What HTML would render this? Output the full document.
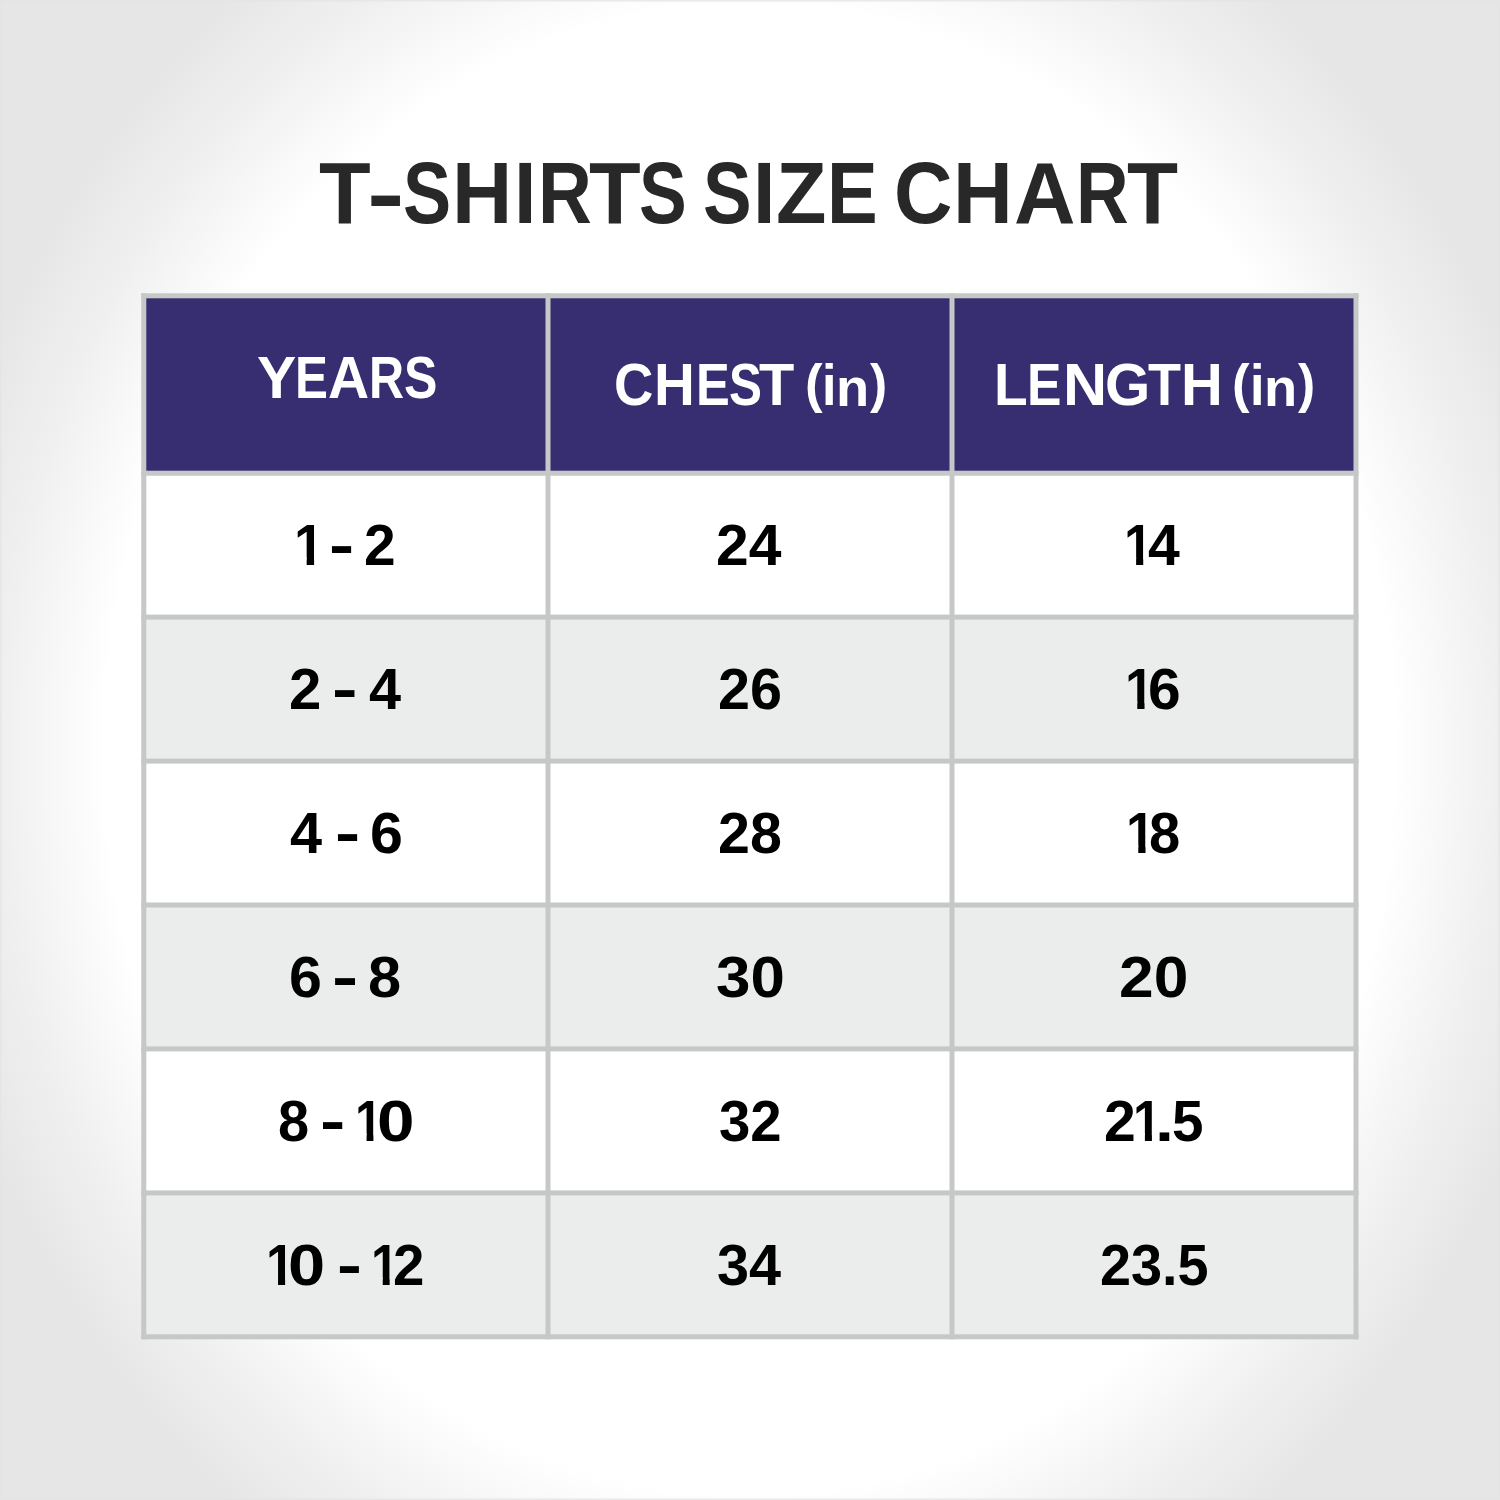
<!DOCTYPE html>
<html lang="en">
<head>
<meta charset="utf-8">
<title>T-Shirts Size Chart</title>
<style>
html,body{margin:0;padding:0;}
body{width:1500px;height:1500px;overflow:hidden;position:relative;
  font-family:"Liberation Sans",sans-serif;font-weight:bold;
  background:#e6e6e6;}
#bg{position:absolute;left:0;top:0;width:1500px;height:1500px;
  background:radial-gradient(ellipse 834px 965px at 750px 750px,#ffffff 0,#ffffff 77.2%,#f0f0f0 89.5%,#e6e6e6 100%);}
#edge{position:absolute;left:0;top:0;width:1500px;height:1500px;
  background:
   linear-gradient(to bottom,rgba(228,228,228,1) 0,rgba(228,228,228,.6) 1px,rgba(228,228,228,.15) 2px,rgba(228,228,228,0) 3px) top/100% 3px no-repeat,
   linear-gradient(to top,rgba(228,228,228,1) 0,rgba(228,228,228,.6) 1px,rgba(228,228,228,.15) 2px,rgba(228,228,228,0) 3px) bottom/100% 3px no-repeat,
   linear-gradient(to right,rgba(228,228,228,1) 0,rgba(228,228,228,.6) 1px,rgba(228,228,228,.15) 2px,rgba(228,228,228,0) 3px) left/3px 100% no-repeat,
   linear-gradient(to left,rgba(228,228,228,1) 0,rgba(228,228,228,.6) 1px,rgba(228,228,228,.15) 2px,rgba(228,228,228,0) 3px) right/3px 100% no-repeat;}
.c{position:absolute;}
.grid{position:absolute;left:0;top:0;}
.one{clip-path:polygon(0 0,0.371em 0,0.371em 1em,0.2334em 1em,0.2334em 0.7em,0 0.7em);}
.t{position:absolute;white-space:nowrap;line-height:1;transform-origin:0 0;margin:0;padding:0;font-weight:bold;}

</style>
</head>
<body>
<div id="bg"></div>
<div id="edge"></div>
<div class="c" style="left:143.8px;top:295.8px;width:1212.2px;height:177.4px;background:#362e70"></div>
<div class="c" style="left:143.8px;top:473.2px;width:1212.2px;height:143.9px;background:#ffffff"></div>
<div class="c" style="left:143.8px;top:617.1px;width:1212.2px;height:144px;background:#ebedec"></div>
<div class="c" style="left:143.8px;top:761.1px;width:1212.2px;height:143.9px;background:#ffffff"></div>
<div class="c" style="left:143.8px;top:905px;width:1212.2px;height:143.9px;background:#ebedec"></div>
<div class="c" style="left:143.8px;top:1048.9px;width:1212.2px;height:144px;background:#ffffff"></div>
<div class="c" style="left:143.8px;top:1192.9px;width:1212.2px;height:143.9px;background:#ebedec"></div>
<svg class="grid" width="1500" height="1500" viewBox="0 0 1500 1500" shape-rendering="geometricPrecision"><rect x="141.3" y="293.3" width="1217.2" height="5" fill="#c6c7c7"/><rect x="141.3" y="470.7" width="1217.2" height="5" fill="#c6c7c7"/><rect x="141.3" y="614.6" width="1217.2" height="5" fill="#c6c7c7"/><rect x="141.3" y="758.6" width="1217.2" height="5" fill="#c6c7c7"/><rect x="141.3" y="902.5" width="1217.2" height="5" fill="#c6c7c7"/><rect x="141.3" y="1046.4" width="1217.2" height="5" fill="#c6c7c7"/><rect x="141.3" y="1190.4" width="1217.2" height="5" fill="#c6c7c7"/><rect x="141.3" y="1334.3" width="1217.2" height="5" fill="#c6c7c7"/><rect x="141.3" y="293.3" width="5" height="1046" fill="#c6c7c7"/><rect x="545.5" y="293.3" width="5" height="1046" fill="#c6c7c7"/><rect x="949.5" y="293.3" width="5" height="1046" fill="#c6c7c7"/><rect x="1353.5" y="293.3" width="5" height="1046" fill="#c6c7c7"/></svg>
<div class="t" style="left:319.05px;top:149.26px;font-size:88px;color:#282828;transform:scaleX(0.9612)">T</div>
<div class="t" style="left:367.17px;top:149.26px;font-size:88px;color:#282828;transform:scaleX(1.2783)">-</div>
<div class="t" style="left:403.31px;top:149.26px;font-size:88px;color:#282828;transform:scaleX(0.8201)">S</div>
<div class="t" style="left:452.02px;top:149.26px;font-size:88px;color:#282828;transform:scaleX(0.9480)">H</div>
<div class="t" style="left:513.60px;top:149.26px;font-size:88px;color:#282828;transform:scaleX(0.9156)">I</div>
<div class="t" style="left:538.01px;top:149.26px;font-size:88px;color:#282828;transform:scaleX(0.8464)">R</div>
<div class="t" style="left:588.65px;top:149.26px;font-size:88px;color:#282828;transform:scaleX(0.9612)">T</div>
<div class="t" style="left:638.73px;top:149.26px;font-size:88px;color:#282828;transform:scaleX(0.8125)">S</div>
<div class="t" style="left:703.29px;top:149.26px;font-size:88px;color:#282828;transform:scaleX(0.8277)">S</div>
<div class="t" style="left:752.60px;top:149.26px;font-size:88px;color:#282828;transform:scaleX(0.9156)">I</div>
<div class="t" style="left:775.53px;top:149.26px;font-size:88px;color:#282828;transform:scaleX(0.9384)">Z</div>
<div class="t" style="left:827.32px;top:149.26px;font-size:88px;color:#282828;transform:scaleX(0.8628)">E</div>
<div class="t" style="left:894.26px;top:149.26px;font-size:88px;color:#282828;transform:scaleX(0.9204)">C</div>
<div class="t" style="left:953.46px;top:149.26px;font-size:88px;color:#282828;transform:scaleX(0.9403)">H</div>
<div class="t" style="left:1013.92px;top:149.26px;font-size:88px;color:#282828;transform:scaleX(0.9674)">A</div>
<div class="t" style="left:1076.12px;top:149.26px;font-size:88px;color:#282828;transform:scaleX(0.8284)">R</div>
<div class="t" style="left:1126.67px;top:149.26px;font-size:88px;color:#282828;transform:scaleX(0.9497)">T</div>
<div class="t" style="left:256.70px;top:349.46px;font-size:59px;color:#fff;transform:scaleX(0.9964)">Y</div>
<div class="t" style="left:294.99px;top:349.46px;font-size:59px;color:#fff;transform:scaleX(0.8370)">E</div>
<div class="t" style="left:328.40px;top:349.46px;font-size:59px;color:#fff;transform:scaleX(0.9658)">A</div>
<div class="t" style="left:369.44px;top:349.46px;font-size:59px;color:#fff;transform:scaleX(0.8236)">R</div>
<div class="t" style="left:403.72px;top:349.46px;font-size:59px;color:#fff;transform:scaleX(0.8482)">S</div>
<div class="t" style="left:614.15px;top:356.06px;font-size:59px;color:#fff;transform:scaleX(0.9231)">C</div>
<div class="t" style="left:653.61px;top:356.06px;font-size:59px;color:#fff;transform:scaleX(0.9587)">H</div>
<div class="t" style="left:695.61px;top:356.06px;font-size:59px;color:#fff;transform:scaleX(0.8582)">E</div>
<div class="t" style="left:729.04px;top:356.06px;font-size:59px;color:#fff;transform:scaleX(0.8368)">S</div>
<div class="t" style="left:759.36px;top:356.06px;font-size:59px;color:#fff;transform:scaleX(0.9787)">T</div>
<div class="t" style="left:993.80px;top:356.06px;font-size:59px;color:#fff;transform:scaleX(0.9350)">L</div>
<div class="t" style="left:1026.84px;top:356.06px;font-size:59px;color:#fff;transform:scaleX(0.8763)">E</div>
<div class="t" style="left:1062.51px;top:356.06px;font-size:59px;color:#fff;transform:scaleX(1.0358)">N</div>
<div class="t" style="left:1105.43px;top:356.06px;font-size:59px;color:#fff;transform:scaleX(0.9867)">G</div>
<div class="t" style="left:1148.00px;top:356.06px;font-size:59px;color:#fff;transform:scaleX(0.9153)">T</div>
<div class="t" style="left:1180.62px;top:356.06px;font-size:59px;color:#fff;transform:scaleX(0.9815)">H</div>
<div class="t" style="left:804.73px;top:356.54px;font-size:53px;color:#fff;transform:scaleX(0.9987)">(</div>
<div class="t" style="left:822.36px;top:358.00px;font-size:56.7px;color:#fff;transform:scaleX(0.9196)">i</div>
<div class="t" style="left:836.21px;top:362.83px;font-size:51px;color:#fff;transform:scaleX(1.0640)">n</div>
<div class="t" style="left:870.00px;top:356.54px;font-size:53px;color:#fff;transform:scaleX(0.9733)">)</div>
<div class="t" style="left:1232.43px;top:356.54px;font-size:53px;color:#fff;transform:scaleX(0.9987)">(</div>
<div class="t" style="left:1250.06px;top:358.00px;font-size:56.7px;color:#fff;transform:scaleX(0.9196)">i</div>
<div class="t" style="left:1263.91px;top:362.83px;font-size:51px;color:#fff;transform:scaleX(1.0640)">n</div>
<div class="t" style="left:1297.70px;top:356.54px;font-size:53px;color:#fff;transform:scaleX(0.9733)">)</div>
<div class="t one" style="left:293.89px;top:517.33px;font-size:57.5px;color:#000;transform:scaleX(0.9437)">1</div>
<div class="t" style="left:328.67px;top:517.33px;font-size:57.5px;color:#000;transform:scaleX(1.3133)">-</div>
<div class="t" style="left:364.32px;top:517.33px;font-size:57.5px;color:#000;transform:scaleX(0.9893)">2</div>
<div class="t" style="left:289.28px;top:661.33px;font-size:57.5px;color:#000;transform:scaleX(1.0107)">2</div>
<div class="t" style="left:332.13px;top:661.33px;font-size:57.5px;color:#000;transform:scaleX(1.3333)">-</div>
<div class="t" style="left:369.12px;top:661.33px;font-size:57.5px;color:#000;transform:scaleX(1.0024)">4</div>
<div class="t" style="left:289.92px;top:805.33px;font-size:57.5px;color:#000;transform:scaleX(1.0024)">4</div>
<div class="t" style="left:334.57px;top:805.33px;font-size:57.5px;color:#000;transform:scaleX(1.3133)">-</div>
<div class="t" style="left:370.34px;top:805.33px;font-size:57.5px;color:#000;transform:scaleX(1.0286)">6</div>
<div class="t" style="left:288.64px;top:949.33px;font-size:57.5px;color:#000;transform:scaleX(1.0286)">6</div>
<div class="t" style="left:331.97px;top:949.33px;font-size:57.5px;color:#000;transform:scaleX(1.3667)">-</div>
<div class="t" style="left:367.96px;top:949.33px;font-size:57.5px;color:#000;transform:scaleX(1.0366)">8</div>
<div class="t" style="left:277.88px;top:1093.33px;font-size:57.5px;color:#000;transform:scaleX(0.9729)">8</div>
<div class="t" style="left:320.36px;top:1093.33px;font-size:57.5px;color:#000;transform:scaleX(1.3200)">-</div>
<div class="t one" style="left:354.61px;top:1093.33px;font-size:57.5px;color:#000;transform:scaleX(0.8631)">1</div>
<div class="t" style="left:376.86px;top:1093.33px;font-size:57.5px;color:#000;transform:scaleX(1.1714)">0</div>
<div class="t one" style="left:265.57px;top:1237.33px;font-size:57.5px;color:#000;transform:scaleX(0.8976)">1</div>
<div class="t" style="left:288.08px;top:1237.33px;font-size:57.5px;color:#000;transform:scaleX(1.1607)">0</div>
<div class="t" style="left:336.70px;top:1237.33px;font-size:57.5px;color:#000;transform:scaleX(1.3000)">-</div>
<div class="t one" style="left:370.76px;top:1237.33px;font-size:57.5px;color:#000;transform:scaleX(0.8746)">1</div>
<div class="t" style="left:393.14px;top:1237.33px;font-size:57.5px;color:#000;transform:scaleX(0.9821)">2</div>
<div class="t" style="left:716.45px;top:517.33px;font-size:57.5px;color:#000;transform:scaleX(1.0226)">24</div>
<div class="t" style="left:718.00px;top:661.33px;font-size:57.5px;color:#000;transform:scaleX(1.0000)">26</div>
<div class="t" style="left:718.00px;top:805.33px;font-size:57.5px;color:#000;transform:scaleX(0.9977)">28</div>
<div class="t" style="left:715.85px;top:949.33px;font-size:57.5px;color:#000;transform:scaleX(1.0750)">30</div>
<div class="t" style="left:719.09px;top:1093.33px;font-size:57.5px;color:#000;transform:scaleX(0.9791)">32</div>
<div class="t" style="left:717.16px;top:1237.33px;font-size:57.5px;color:#000;transform:scaleX(1.0022)">34</div>
<div class="t one" style="left:1124.35px;top:517.33px;font-size:57.5px;color:#000;transform:scaleX(0.9034)">1</div>
<div class="t" style="left:1148.13px;top:517.33px;font-size:57.5px;color:#000;transform:scaleX(0.9928)">4</div>
<div class="t one" style="left:1125.30px;top:661.33px;font-size:57.5px;color:#000;transform:scaleX(0.9149)">1</div>
<div class="t" style="left:1148.06px;top:661.33px;font-size:57.5px;color:#000;transform:scaleX(1.0214)">6</div>
<div class="t one" style="left:1125.70px;top:805.33px;font-size:57.5px;color:#000;transform:scaleX(0.9149)">1</div>
<div class="t" style="left:1148.87px;top:805.33px;font-size:57.5px;color:#000;transform:scaleX(0.9764)">8</div>
<div class="t" style="left:1119.43px;top:949.33px;font-size:57.5px;color:#000;transform:scaleX(1.0833)">20</div>
<div class="t" style="left:1104.01px;top:1093.33px;font-size:57.5px;color:#000;transform:scaleX(0.9929)">2</div>
<div class="t one" style="left:1133.32px;top:1093.33px;font-size:57.5px;color:#000;transform:scaleX(0.8861)">1</div>
<div class="t" style="left:1154.96px;top:1093.33px;font-size:57.5px;color:#000;transform:scaleX(1.1866)">.</div>
<div class="t" style="left:1172.13px;top:1093.33px;font-size:57.5px;color:#000;transform:scaleX(0.9846)">5</div>
<div class="t" style="left:1099.56px;top:1237.33px;font-size:57.5px;color:#000;transform:scaleX(0.9710)">23.5</div>
</body>
</html>
